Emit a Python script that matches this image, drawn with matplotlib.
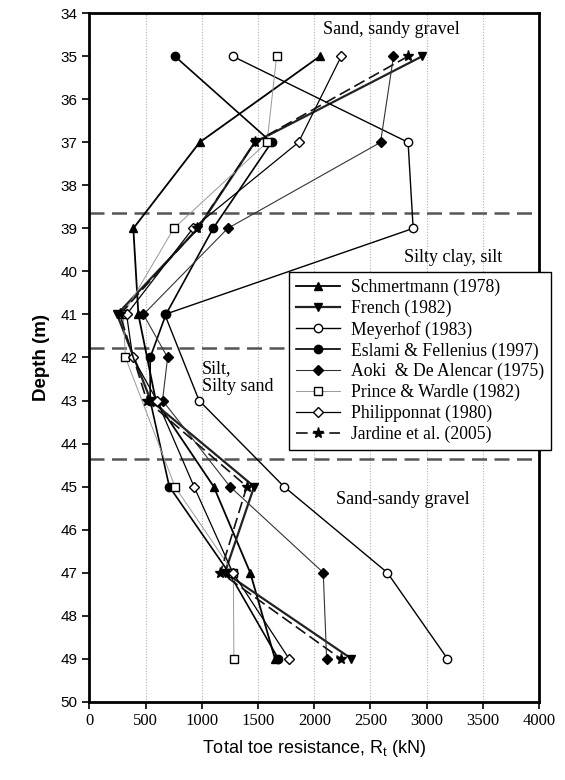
import matplotlib
matplotlib.use("Agg")
import matplotlib.pyplot as plt

# ---------------- data ----------------
schmertmann_depth = [35, 37, 39, 41, 43, 45, 47, 49]
schmertmann_rt = [2050, 980, 390, 435, 590, 1105, 1430, 1650]

french_depth = [35, 37, 39, 41, 43, 45, 47, 49]
french_rt = [2960, 1470, 965, 245, 545, 1465, 1205, 2330]

meyerhof_depth = [35, 37, 39, 41, 43, 45, 47, 49]
meyerhof_rt = [1275, 2835, 2880, 670, 975, 1730, 2650, 3185]

eslami_depth = [35, 37, 39, 41, 42, 43, 45, 47, 49]
eslami_rt = [760, 1620, 1100, 680, 540, 540, 710, 1240, 1680]

aoki_depth = [35, 37, 39, 41, 42, 43, 45, 47, 49]
aoki_rt = [2705, 2590, 1230, 480, 695, 650, 1250, 2080, 2110]

prince_depth = [35, 37, 39, 41, 42, 45, 47, 49]
prince_rt = [1665, 1580, 750, 300, 320, 760, 1280, 1285]

philipponnat_depth = [35, 37, 39, 41, 42, 43, 45, 47, 49]
philipponnat_rt = [2240, 1860, 920, 330, 385, 600, 930, 1275, 1775]

jardine_depth = [35, 37, 39, 41, 43, 45, 47, 49]
jardine_rt = [2835, 1470, 960, 270, 510, 1400, 1165, 2235]

layer_boundaries = [38.64, 41.77, 44.37]

x_ticks = [0, 500, 1000, 1500, 2000, 2500, 3000, 3500, 4000]
y_ticks = list(range(34, 51))

# ---------------- figure ----------------
serif = ["Liberation Serif", "DejaVu Serif"]
sans = ["Liberation Sans", "DejaVu Sans"]

fig = plt.figure(figsize=(5.65, 7.8), dpi=100)
ax = fig.add_axes([0.1584, 0.1004, 0.7956, 0.8826])

ax.set_xlim(0, 4000)
ax.set_ylim(50, 34)
ax.set_xticks(x_ticks)
ax.set_yticks(y_ticks)
ax.xaxis.grid(True, color="#b0b0b0", linestyle=(0, (1, 1.5)), linewidth=0.8)
ax.yaxis.grid(False)
ax.set_axisbelow(True)

for sp in ax.spines.values():
    sp.set_linewidth(2.0)

ax.tick_params(axis="both", direction="out", length=5, width=1.2)
ax.tick_params(axis="x", labelsize=12)
ax.tick_params(axis="y", labelsize=11)
for lab in ax.get_xticklabels():
    lab.set_family(serif)
for lab in ax.get_yticklabels():
    lab.set_family(sans)

# layer boundaries
for d in layer_boundaries:
    ax.axhline(d, color="#555555", linestyle=(0, (6, 3)), linewidth=1.8, zorder=1)

ms = 6
series = [
    ("Schmertmann (1978)", schmertmann_depth, schmertmann_rt,
     dict(color="black", linestyle="-", linewidth=1.3, marker="^", markerfacecolor="black", markersize=ms)),
    ("French (1982)", french_depth, french_rt,
     dict(color="#222222", linestyle="-", linewidth=1.6, marker="v", markerfacecolor="black", markersize=ms)),
    ("Meyerhof (1983)", meyerhof_depth, meyerhof_rt,
     dict(color="black", linestyle="-", linewidth=1.0, marker="o", markerfacecolor="white", markersize=ms)),
    ("Eslami & Fellenius (1997)", eslami_depth, eslami_rt,
     dict(color="black", linestyle="-", linewidth=1.2, marker="o", markerfacecolor="black", markersize=ms)),
    ("Aoki  & De Alencar (1975)", aoki_depth, aoki_rt,
     dict(color="#333333", linestyle="-", linewidth=0.8, marker="D", markerfacecolor="black", markersize=ms - 0.5)),
    ("Prince & Wardle (1982)", prince_depth, prince_rt,
     dict(color="#999999", linestyle="-", linewidth=0.7, marker="s", markerfacecolor="white",
          markeredgecolor="black", markersize=ms - 0.5)),
    ("Philipponnat (1980)", philipponnat_depth, philipponnat_rt,
     dict(color="black", linestyle="-", linewidth=0.9, marker="D", markerfacecolor="white", markersize=ms - 0.5)),
    ("Jardine et al. (2005)", jardine_depth, jardine_rt,
     dict(color="#111111", linestyle=(0, (7, 3)), linewidth=1.2, marker="*", markerfacecolor="black",
          markersize=ms + 2)),
]

handles = []
for name, d, v, st in series:
    st.setdefault("markeredgecolor", "black")
    h, = ax.plot(v, d, label=name, markeredgewidth=1.0, zorder=3, **st)
    handles.append(h)

# soil layer annotations
ax.text(2690, 34.37, "Sand, sandy gravel", family=serif, fontsize=13, ha="center", va="center")
ax.text(2800, 39.67, "Silty clay, silt", family=serif, fontsize=13, ha="left", va="center")
ax.text(1000, 42.47, "Silt,\nSilty sand", family=serif, fontsize=13, ha="left", va="center",
        linespacing=1.05)
ax.text(2197, 45.3, "Sand-sandy gravel", family=serif, fontsize=13, ha="left", va="center")

ax.set_xlabel("Total toe resistance, R$_\\mathregular{t}$ (kN)", family=sans, fontsize=13, labelpad=6)
ax.set_ylabel("Depth (m)", family=sans, fontsize=13.5, fontweight="bold", labelpad=8)

leg = ax.legend(handles=handles, loc="upper left",
                bbox_to_anchor=(289 / 565, 1 - 272 / 780), bbox_transform=fig.transFigure,
                prop=dict(family=serif, size=12.7), frameon=True, fancybox=False,
                edgecolor="black", framealpha=1, handlelength=2.5, handletextpad=0.6,
                borderpad=0.4, labelspacing=0.2, borderaxespad=0)
leg.get_frame().set_linewidth(1.0)
leg.set_zorder(10)
leg.set_clip_on(False)

fig.savefig("out.png", dpi=100)
